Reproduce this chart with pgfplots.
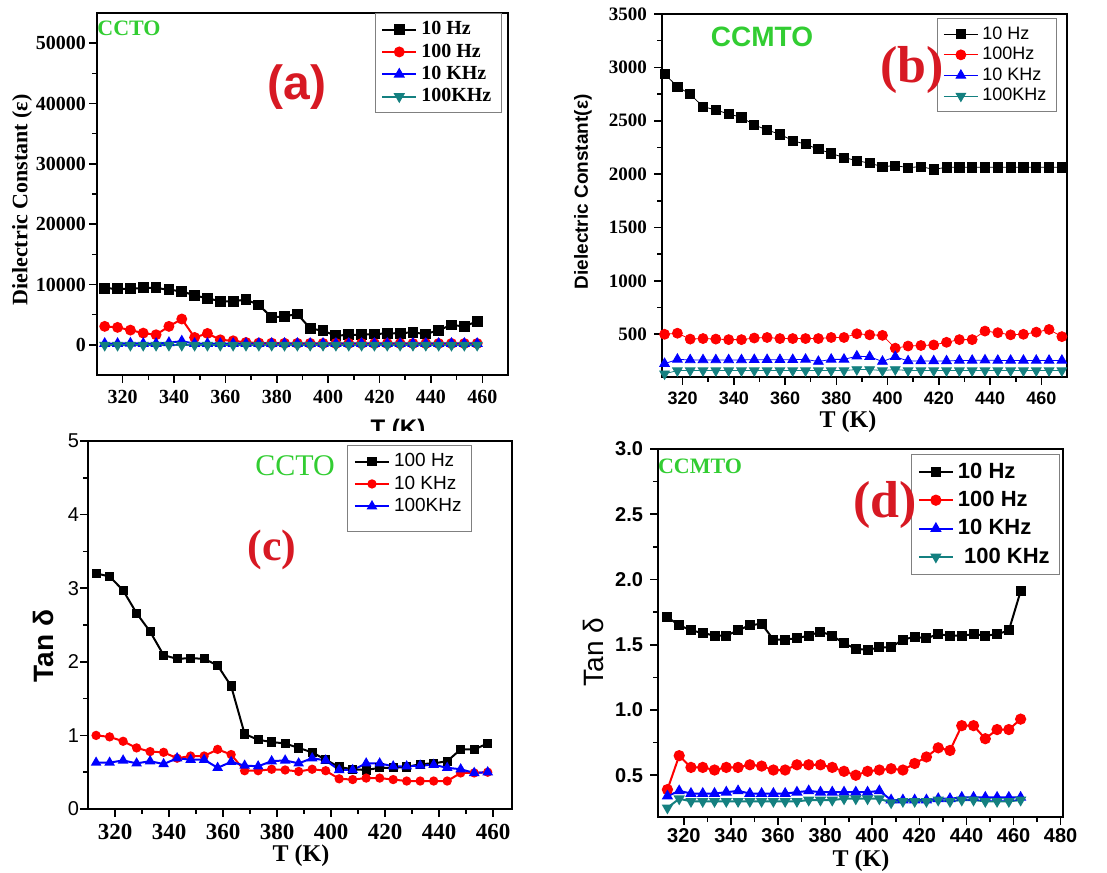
\documentclass[border=0pt]{standalone}
\usepackage{fontspec}
\setmainfont{Liberation Serif}
\setsansfont{Liberation Sans}
\usepackage{pgfplots}
\pgfplotsset{compat=1.18}
\definecolor{lbl}{RGB}{215,25,35}
\definecolor{grn}{RGB}{50,205,50}
\definecolor{tl}{RGB}{20,128,128}

\pgfplotsset{
  panel/.style={scale only axis, axis line style={line width=0.8pt},
    tick align=outside, xtick pos=left, ytick pos=left, minor tick num=1,
    major tick length=4pt, minor tick length=2.5pt, tick style={line width=0.8pt,black},
    /pgf/number format/assume math mode=true, /pgf/number format/1000 sep={},
    scaled ticks=false, legend cell align=left,
    legend style={draw=gray, line width=0.5pt, fill=white, row sep=-1pt}},
  sq/.style={black, mark=square*, mark size=2.2pt},
  ci/.style={red, mark=*, mark size=2.2pt},
  tu/.style={blue, mark=triangle*, mark size=2.6pt},
  td/.style={tl, mark=triangle*, mark size=2.6pt, mark options={rotate=180}},
}

\begin{document}
\begin{tikzpicture}[x=0.5pt,y=0.5pt]
\useasboundingbox (0,0) rectangle (1107,872);

% ---------------- (a)
\begin{axis}[panel, at={(48.5pt,248.5pt)}, width=205.5pt, height=181pt,
  xmin=310, xmax=470, ymin=-5000, ymax=55000,
  xtick={320,340,...,460}, ytick={0,10000,...,50000},
  yticklabel shift=-2pt,
  tick label style={font=\fontsize{10}{12}\selectfont\bfseries},
  legend style={at={(0.985,1)}, anchor=north east, font=\fontsize{10}{12}\selectfont\bfseries},
  every axis plot/.append style={line width=1pt}]
\addplot[sq] coordinates {(313,9390)(318,9280)(323,9280)(328,9440)(333,9440)(338,9110)(343,8890)(348,8170)(353,7720)(358,7220)(363,7220)(368,7500)(373,6610)(378,4560)(383,4720)(388,5110)(393,2720)(398,2330)(403,1500)(408,1670)(413,1670)(418,1780)(423,1890)(428,1940)(433,2060)(438,1780)(443,2440)(448,3280)(453,3060)(458,3890)};
\addplot[ci, mark size=2.2pt] coordinates {(313,3060)(318,2890)(323,2440)(328,1940)(333,1670)(338,3060)(343,4280)(348,1220)(353,1890)(358,830)(363,670)(368,390)(373,300)(378,280)(383,260)(388,250)(393,240)(398,240)(403,230)(408,230)(413,230)(418,220)(423,220)(428,220)(433,220)(438,220)(443,220)(448,220)(453,220)(458,220)};
\addplot[tu, mark size=2.3pt] coordinates {(313,200)(318,200)(323,250)(328,200)(333,200)(338,350)(343,600)(348,200)(353,200)(358,200)(363,200)(368,200)(373,200)(378,200)(383,200)(388,200)(393,200)(398,200)(403,200)(408,200)(413,200)(418,200)(423,200)(428,200)(433,200)(438,200)(443,200)(448,200)(453,200)(458,200)};
\addplot[td, mark size=2.3pt] coordinates {(313,-50)(318,-50)(323,-50)(328,-50)(333,-50)(338,-50)(343,-50)(348,-50)(353,-50)(358,-50)(363,-50)(368,-50)(373,-50)(378,-50)(383,-50)(388,-50)(393,-50)(398,-50)(403,-50)(408,-50)(413,-50)(418,-50)(423,-50)(428,-50)(433,-50)(438,-50)(443,-50)(448,-50)(453,-50)(458,-50)};
\legend{10 Hz,100 Hz,10 KHz,100KHz}
\end{axis}

% ---------------- (b)
\begin{axis}[panel, at={(331pt,247.5pt)}, width=202.5pt, height=181.5pt,
  xmin=312, xmax=470, ymin=100, ymax=3500,
  xtick={320,340,...,460}, ytick={500,1000,...,3500},
  yticklabel style={font=\fontsize{9.5}{11}\selectfont\bfseries},
  xticklabel style={font=\fontsize{9}{11}\selectfont\sffamily\bfseries},
  legend style={at={(0.975,0.989)}, anchor=north east, font=\fontsize{9}{11}\selectfont\sffamily, row sep=-1.5pt},
  every axis plot/.append style={line width=0.4pt}]
\addplot[sq, mark size=2.3pt] coordinates {(313,2938)(318,2820)(323,2748)(328,2632)(333,2601)(338,2564)(343,2532)(348,2461)(353,2414)(358,2373)(363,2314)(368,2280)(373,2233)(378,2195)(383,2155)(388,2127)(393,2102)(398,2070)(403,2080)(408,2061)(413,2070)(418,2045)(423,2064)(428,2064)(433,2064)(438,2064)(443,2064)(448,2064)(453,2064)(458,2064)(463,2064)(468,2064)};
\addplot[ci, mark size=2.5pt] coordinates {(313,500)(318,510)(323,455)(328,460)(333,455)(338,450)(343,450)(348,465)(353,470)(358,460)(363,460)(368,460)(373,460)(378,470)(383,470)(388,505)(393,495)(398,490)(403,370)(408,390)(413,395)(418,400)(423,425)(428,450)(433,450)(438,530)(443,515)(448,495)(453,500)(458,520)(463,545)(468,478)};
\addplot[tu, mark size=2.8pt] coordinates {(313,225)(318,265)(323,260)(328,260)(333,260)(338,260)(343,260)(348,262)(353,262)(358,262)(363,262)(368,265)(373,245)(378,265)(383,265)(388,295)(393,290)(398,245)(403,290)(408,250)(413,250)(418,250)(423,250)(428,255)(433,255)(438,258)(443,255)(448,255)(453,255)(458,255)(463,255)(468,255)};
\addplot[td, mark size=2.8pt] coordinates {(313,130)(318,160)(323,160)(328,160)(333,160)(338,160)(343,160)(348,160)(353,160)(358,160)(363,160)(368,160)(373,160)(378,160)(383,160)(388,170)(393,170)(398,160)(403,170)(408,160)(413,160)(418,160)(423,160)(428,160)(433,160)(438,160)(443,160)(448,160)(453,160)(458,160)(463,160)(468,160)};
\legend{10 Hz,100Hz,10 KHz,100KHz}
\end{axis}

% ---------------- (c)
\begin{axis}[panel, at={(44pt,31.5pt)}, width=212pt, height=184pt,
  xmin=310, xmax=467, ymin=0, ymax=5,
  xtick={320,340,...,460}, ytick={0,1,...,5},
  yticklabel shift=-3pt,
  yticklabel style={font=\fontsize{10}{12}\selectfont\sffamily},
  xticklabel style={font=\fontsize{11.5}{13}\selectfont\bfseries},
  legend style={at={(0.906,0.989)}, anchor=north east, font=\fontsize{9.5}{11}\selectfont\sffamily},
  every axis plot/.append style={line width=1pt}]
\addplot[sq, mark size=1.8pt] coordinates {(313,3.20)(318,3.16)(323,2.97)(328,2.66)(333,2.41)(338,2.09)(343,2.04)(348,2.05)(353,2.04)(358,1.95)(363,1.67)(368,1.02)(373,0.94)(378,0.91)(383,0.89)(388,0.83)(393,0.77)(398,0.67)(403,0.57)(408,0.54)(413,0.53)(418,0.56)(423,0.56)(428,0.57)(433,0.61)(438,0.62)(443,0.65)(448,0.81)(453,0.81)(458,0.89)};
\addplot[ci, mark size=1.8pt] coordinates {(313,1.00)(318,0.98)(323,0.92)(328,0.83)(333,0.78)(338,0.77)(343,0.69)(348,0.72)(353,0.72)(358,0.81)(363,0.74)(368,0.52)(373,0.52)(378,0.54)(383,0.53)(388,0.51)(393,0.54)(398,0.52)(403,0.41)(408,0.40)(413,0.42)(418,0.42)(423,0.40)(428,0.38)(433,0.38)(438,0.38)(443,0.38)(448,0.49)(453,0.49)(458,0.50)};
\addplot[tu, mark size=2.1pt] coordinates {(313,0.63)(318,0.63)(323,0.66)(328,0.62)(333,0.65)(338,0.61)(343,0.69)(348,0.67)(353,0.67)(358,0.56)(363,0.64)(368,0.59)(373,0.58)(378,0.65)(383,0.66)(388,0.62)(393,0.69)(398,0.66)(403,0.53)(408,0.53)(413,0.62)(418,0.62)(423,0.58)(428,0.58)(433,0.59)(438,0.60)(443,0.56)(448,0.54)(453,0.49)(458,0.50)};
\addlegendentry{100 Hz}
\addlegendentry{10 KHz}
\addlegendentry{100KHz}
\addlegendimage{empty legend}
\addlegendentry{}
\end{axis}

% ---------------- (d)
\begin{axis}[panel, at={(329pt,27.5pt)}, width=202.5pt, height=184pt,
  xmin=309, xmax=481, ymin=0.18, ymax=3,
  xtick={320,340,...,480}, ytick={0.5,1,...,3},
  xticklabel shift=-2pt,
  yticklabel style={/pgf/number format/.cd, fixed, fixed zerofill, precision=1},
  tick label style={font=\fontsize{10}{12}\selectfont\sffamily\bfseries},
  legend style={at={(0.993,0.986)}, anchor=north east, font=\fontsize{11}{13}\selectfont\sffamily\bfseries, row sep=1pt},
  every axis plot/.append style={line width=1pt}]
\addplot[sq, mark size=2pt] coordinates {(313,1.71)(318,1.65)(323,1.61)(328,1.59)(333,1.57)(338,1.57)(343,1.61)(348,1.65)(353,1.66)(358,1.54)(363,1.54)(368,1.55)(373,1.57)(378,1.60)(383,1.57)(388,1.51)(393,1.47)(398,1.46)(403,1.48)(408,1.48)(413,1.54)(418,1.56)(423,1.55)(428,1.58)(433,1.57)(438,1.57)(443,1.58)(448,1.57)(453,1.58)(458,1.61)(463,1.91)};
\addplot[ci, mark size=2.3pt] coordinates {(313,0.39)(318,0.65)(323,0.56)(328,0.56)(333,0.54)(338,0.56)(343,0.56)(348,0.58)(353,0.57)(358,0.54)(363,0.54)(368,0.58)(373,0.58)(378,0.58)(383,0.56)(388,0.53)(393,0.50)(398,0.53)(403,0.54)(408,0.55)(413,0.54)(418,0.59)(423,0.64)(428,0.71)(433,0.69)(438,0.88)(443,0.88)(448,0.78)(453,0.85)(458,0.85)(463,0.93)};
\addplot[tu, mark size=2.3pt] coordinates {(313,0.34)(318,0.38)(323,0.36)(328,0.36)(333,0.36)(338,0.37)(343,0.38)(348,0.36)(353,0.36)(358,0.36)(363,0.36)(368,0.37)(373,0.38)(378,0.37)(383,0.37)(388,0.37)(393,0.37)(398,0.37)(403,0.38)(408,0.31)(413,0.31)(418,0.31)(423,0.31)(428,0.32)(433,0.32)(438,0.33)(443,0.33)(448,0.33)(453,0.33)(458,0.33)(463,0.33)};
\addplot[td, mark size=2.3pt] coordinates {(313,0.25)(318,0.32)(323,0.30)(328,0.30)(333,0.30)(338,0.30)(343,0.30)(348,0.30)(353,0.30)(358,0.30)(363,0.30)(368,0.30)(373,0.31)(378,0.31)(383,0.31)(388,0.32)(393,0.32)(398,0.32)(403,0.32)(408,0.29)(413,0.30)(418,0.30)(423,0.30)(428,0.31)(433,0.30)(438,0.31)(443,0.31)(448,0.30)(453,0.30)(458,0.30)(463,0.31)};
\legend{10 Hz,100 Hz,10 KHz,{\ 100 KHz}}
\end{axis}

% ---------------- labels (positions in pixels of the 1107x872 picture)
% (a)
\node[grn, font=\fontsize{11}{13}\selectfont\bfseries] at (129,844) {CCTO};
\node[lbl, font=\fontsize{24}{26}\selectfont\sffamily\bfseries] at (297,785) {(a)};
\node[rotate=90, font=\fontsize{11}{13}\selectfont\bfseries] at (22,672) {Dielectric Constant (ε)};
\begin{scope}
\clip (300,441) rectangle (500,480);
\node[font=\fontsize{12}{14}\selectfont\sffamily\bfseries] at (398,442) {T (K)};
\end{scope}
% (b)
\node[grn, font=\fontsize{14}{16}\selectfont\sffamily\bfseries] at (762,835) {CCMTO};
\node[lbl, font=\fontsize{26}{28}\selectfont\bfseries] at (912,802) {(b)};
\node[rotate=90, font=\fontsize{9.5}{11}\selectfont\sffamily\bfseries] at (583,680) {Dielectric Constant(ε)};
\node[font=\fontsize{12}{14}\selectfont\bfseries] at (848,450) {T (K)};
% (c)
\node[grn, font=\fontsize{15}{17}\selectfont] at (295,406) {CCTO};
\node[lbl, font=\fontsize{22}{24}\selectfont\bfseries] at (272,322) {(c)};
\node[rotate=90, font=\fontsize{14}{16}\selectfont\sffamily\bfseries] at (43,226) {Tan δ};
\node[font=\fontsize{12}{14}\selectfont\bfseries] at (301,16) {T (K)};
% (d)
\node[grn, font=\fontsize{11}{13}\selectfont\bfseries] at (700,406) {CCMTO};
\node[lbl, font=\fontsize{26}{28}\selectfont\bfseries] at (885,367) {(d)};
\node[rotate=90, font=\fontsize{14}{16}\selectfont\sffamily] at (593,220) {Tan δ};
\node[font=\fontsize{12}{14}\selectfont\bfseries] at (861,11) {T (K)};
\end{tikzpicture}
\end{document}
